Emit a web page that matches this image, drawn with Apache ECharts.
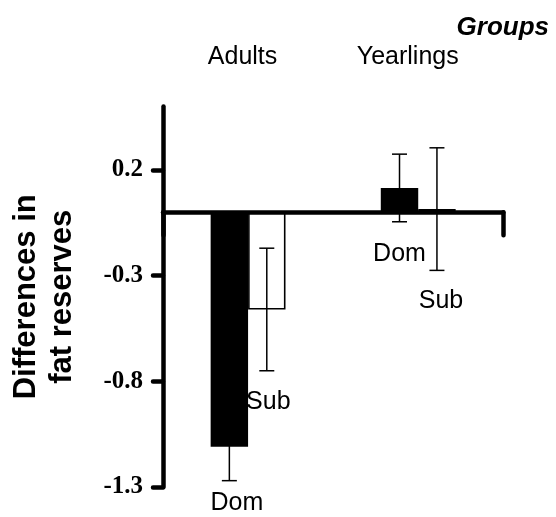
<!DOCTYPE html>
<html>
<head>
<meta charset="utf-8">
<script src="https://cdn.jsdelivr.net/npm/echarts@6/dist/echarts.min.js"></script>
<style>
  html, body { margin: 0; padding: 0; background: #fff; }
  #chart { width: 556px; height: 517px; }
</style>
</head>
<body>
<div id="chart"></div>
<script>
// Fat reserve differences by age group and social status
const groups = ['Adults', 'Yearlings'];
const domValues = [-1.11, 0.115];
const domErrors = [0.16, 0.16];
const subValues = [-0.46, 0.015];
const subErrors = [0.29, 0.29];
const yTicks = [-1.3, -0.8, -0.3, 0.2];

const SANS = 'Liberation Sans, Arial, sans-serif';
const SERIF = 'Liberation Serif, Times New Roman, serif';
const CAT_GAP = 0.56;

// Label placement under the lower whisker: [dx, dy] per bar
const domLabelShift = [[7.5, 22], [0, 32.5]];
const subLabelShift = [[1.5, 31], [4, 30.5]];

function errorItems(values, errors, side, name, shifts) {
  return values.map((v, i) => [i, v, errors[i], side, name, shifts[i][0], shifts[i][1]]);
}

const errData = errorItems(domValues, domErrors, -1, 'Dom', domLabelShift)
  .concat(errorItems(subValues, subErrors, 1, 'Sub', subLabelShift));

const chart = echarts.init(document.getElementById('chart'));

chart.setOption({
  animation: false,
  backgroundColor: '#fff',
  title: {
    text: 'Groups',
    right: 2,
    top: 10,
    textStyle: { fontFamily: SANS, fontSize: 26, fontWeight: 'bold', fontStyle: 'italic', color: '#000' }
  },
  grid: { left: 162, right: 52.7, top: 106.6, bottom: 30, containLabel: false },
  xAxis: [
    {
      type: 'category',
      data: groups,
      z: 3,
      axisLine: { onZero: true, lineStyle: { color: '#000', width: 4.5 } },
      axisTick: {
        show: true,
        interval: function (i) { return i === 0; },
        length: 23,
        lineStyle: { color: '#000', width: 4.5, cap: 'round' }
      },
      axisLabel: { show: false },
      splitLine: { show: false }
    },
    {
      type: 'category',
      data: groups,
      position: 'top',
      axisLine: { show: false, onZero: false },
      axisTick: { show: false },
      axisLabel: {
        show: true, interval: 0, hideOverlap: false,
        margin: 37, fontFamily: SANS, fontSize: 25, color: '#000',
        formatter: function (v, i) { return '{g' + i + '|' + v + '}'; },
        rich: {
          g0: { fontFamily: SANS, fontSize: 25, color: '#000', padding: [0, 11, 0, 0] },
          g1: { fontFamily: SANS, fontSize: 25, color: '#000', padding: [0, 21, 0, 0] }
        }
      },
      splitLine: { show: false }
    }
  ],
  yAxis: {
    type: 'value',
    min: -1.3,
    max: 0.5,
    interval: 0.5,
    name: 'Differences in\nfat reserves',
    nameLocation: 'middle',
    nameGap: 83,
    nameTextStyle: { fontFamily: SANS, fontSize: 31, fontWeight: 'bold', color: '#000', lineHeight: 36 },
    axisLine: { show: true, lineStyle: { color: '#000', width: 4.5, cap: 'round' } },
    axisTick: {
      show: true, length: 10, customValues: yTicks,
      lineStyle: { color: '#000', width: 4.5, cap: 'round' }
    },
    axisLabel: {
      customValues: yTicks,
      margin: 20,
      fontFamily: SERIF, fontSize: 25, fontWeight: 'bold', color: '#000',
      formatter: function (v) { return v.toFixed(1); }
    },
    splitLine: { show: false }
  },
  series: [
    {
      name: 'Dom',
      type: 'bar',
      data: domValues,
      barGap: '0%',
      barCategoryGap: (CAT_GAP * 100) + '%',
      itemStyle: { color: '#000', borderColor: '#000', borderWidth: 0 }
    },
    {
      name: 'Sub',
      type: 'bar',
      data: subValues,
      barGap: '0%',
      barCategoryGap: (CAT_GAP * 100) + '%',
      itemStyle: { color: '#fff', borderColor: '#000', borderWidth: 1.6 }
    },
    {
      name: 'errors',
      type: 'custom',
      z: 5,
      data: errData,
      encode: { x: 0, y: 1 },
      renderItem: function (params, api) {
        const cat = api.value(0);
        const val = api.value(1);
        const err = api.value(2);
        const side = api.value(3);
        const band = api.size([1, 0])[0];
        const barW = band * (1 - CAT_GAP) / 2;
        const top = api.coord([cat, val + err]);
        const low = api.coord([cat, val - err]);
        const x = top[0] + side * barW / 2;
        const cap = 7.5;
        const lineStyle = { stroke: '#000', lineWidth: 1.5 };
        return {
          type: 'group',
          children: [
            { type: 'line', shape: { x1: x, y1: top[1], x2: x, y2: low[1] }, style: lineStyle },
            { type: 'line', shape: { x1: x - cap, y1: top[1], x2: x + cap, y2: top[1] }, style: lineStyle },
            { type: 'line', shape: { x1: x - cap, y1: low[1], x2: x + cap, y2: low[1] }, style: lineStyle },
            {
              type: 'text',
              x: x + api.value(5),
              y: low[1] + api.value(6),
              style: {
                text: api.value(4),
                fontFamily: SANS, fontSize: 25, fill: '#000',
                align: 'center', verticalAlign: 'middle'
              }
            }
          ]
        };
      }
    }
  ]
});
</script>
</body>
</html>
